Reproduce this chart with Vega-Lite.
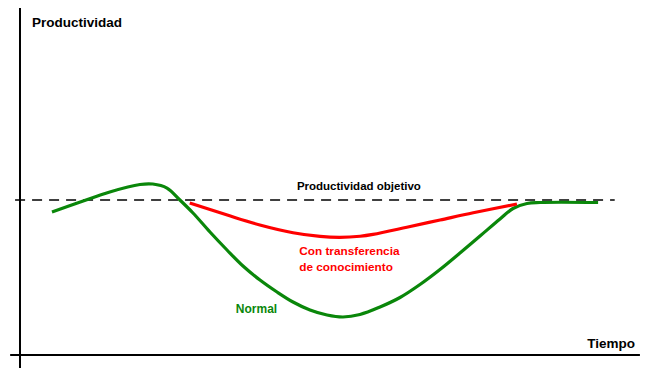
{
  "$schema": "https://vega.github.io/schema/vega-lite/v6.json",
  "width": 653,
  "height": 384,
  "padding": 0,
  "autosize": {"type": "none"},
  "background": "white",
  "config": {"view": {"stroke": null}},
  "datasets": {
    "normal": [
      {"t": 5.2, "p": 92.3}, {"t": 9.8, "p": 98.7}, {"t": 14.6, "p": 105.2}, {"t": 19.5, "p": 110.0},
      {"t": 21.6, "p": 110.3}, {"t": 23.9, "p": 107.7}, {"t": 26.0, "p": 100.0}, {"t": 28.13, "p": 91.61},
      {"t": 30.89, "p": 79.35}, {"t": 33.66, "p": 67.74}, {"t": 36.26, "p": 57.42}, {"t": 39.02, "p": 48.39},
      {"t": 41.79, "p": 40.65}, {"t": 44.39, "p": 34.19}, {"t": 47.15, "p": 29.03}, {"t": 49.92, "p": 25.81},
      {"t": 52.52, "p": 24.52}, {"t": 55.28, "p": 26.13}, {"t": 58.54, "p": 30.97}, {"t": 61.79, "p": 37.10},
      {"t": 65.04, "p": 45.48}, {"t": 68.29, "p": 55.16}, {"t": 71.54, "p": 65.81}, {"t": 74.80, "p": 76.77},
      {"t": 78.05, "p": 87.74}, {"t": 80.16, "p": 94.52}, {"t": 82.44, "p": 97.74}, {"t": 84.55, "p": 98.39},
      {"t": 94.0, "p": 98.4}
    ],
    "transfer": [
      {"t": 27.6, "p": 98.1}, {"t": 33.7, "p": 90.3}, {"t": 39.0, "p": 83.9}, {"t": 44.4, "p": 78.9},
      {"t": 48.8, "p": 76.5}, {"t": 52.0, "p": 75.9}, {"t": 55.3, "p": 76.6}, {"t": 57.4, "p": 77.8},
      {"t": 62.9, "p": 82.4}, {"t": 68.3, "p": 87.1}, {"t": 73.7, "p": 91.8}, {"t": 80.8, "p": 97.4}
    ],
    "hAxis": [{"t": -1.6, "t2": 100.8, "p": 0}],
    "vAxis": [{"t": 0, "p": -8.4, "p2": 223.9}],
    "target": [{"t": -0.8, "t2": 96.7, "p": 100}],
    "labels": [
      {"t": 1.95, "p": 211.6, "label": "Productividad", "color": "black", "size": 13.5, "align": "left"},
      {"t": 100, "p": 4.5, "label": "Tiempo", "color": "black", "size": 13.5, "align": "right"},
      {"t": 55.1, "p": 106.5, "label": "Productividad objetivo", "color": "black", "size": 11.5, "align": "center"},
      {"t": 45.4, "p": 64.5, "label": "Con transferencia", "color": "red", "size": 11.8, "align": "left"},
      {"t": 45.4, "p": 54.2, "label": "de conocimiento", "color": "red", "size": 11.8, "align": "left"},
      {"t": 35.1, "p": 27.1, "label": "Normal", "color": "green", "size": 12, "align": "left"}
    ]
  },
  "layer": [
    {
      "data": {"name": "target"},
      "mark": {"type": "rule", "color": "black", "strokeWidth": 1.3, "strokeDash": [10, 7]},
      "encoding": {
        "x": {"field": "t", "type": "quantitative", "scale": {"domain": [-3.252, 102.927], "nice": false, "zero": false}, "axis": null},
        "x2": {"field": "t2"},
        "y": {"field": "p", "type": "quantitative", "scale": {"domain": [-18.71, 229.03], "nice": false, "zero": false}, "axis": null}
      }
    },
    {
      "data": {"name": "hAxis"},
      "mark": {"type": "rule", "color": "black", "strokeWidth": 2},
      "encoding": {
        "x": {"field": "t", "type": "quantitative"},
        "x2": {"field": "t2"},
        "y": {"field": "p", "type": "quantitative"}
      }
    },
    {
      "data": {"name": "vAxis"},
      "mark": {"type": "rule", "color": "black", "strokeWidth": 2},
      "encoding": {
        "x": {"field": "t", "type": "quantitative"},
        "y": {"field": "p", "type": "quantitative"},
        "y2": {"field": "p2"}
      }
    },
    {
      "data": {"name": "normal"},
      "mark": {"type": "line", "color": "#0a870a", "strokeWidth": 3.2, "interpolate": "catmull-rom"},
      "encoding": {
        "x": {"field": "t", "type": "quantitative"},
        "y": {"field": "p", "type": "quantitative"}
      }
    },
    {
      "data": {"name": "transfer"},
      "mark": {"type": "line", "color": "#ff0000", "strokeWidth": 3.2, "interpolate": "catmull-rom"},
      "encoding": {
        "x": {"field": "t", "type": "quantitative"},
        "y": {"field": "p", "type": "quantitative"}
      }
    },
    {
      "data": {"name": "labels"},
      "transform": [{"filter": "datum.align == 'left'"}],
      "mark": {"type": "text", "font": "Liberation Sans", "fontWeight": "bold", "baseline": "alphabetic", "align": "left"},
      "encoding": {
        "x": {"field": "t", "type": "quantitative"},
        "y": {"field": "p", "type": "quantitative"},
        "text": {"field": "label"},
        "size": {"field": "size", "type": "quantitative", "scale": null},
        "color": {"field": "color", "type": "nominal", "scale": {"domain": ["black", "red", "green"], "range": ["#000000", "#ff0000", "#0a870a"]}, "legend": null}
      }
    },
    {
      "data": {"name": "labels"},
      "transform": [{"filter": "datum.align == 'right'"}],
      "mark": {"type": "text", "font": "Liberation Sans", "fontWeight": "bold", "baseline": "alphabetic", "align": "right"},
      "encoding": {
        "x": {"field": "t", "type": "quantitative"},
        "y": {"field": "p", "type": "quantitative"},
        "text": {"field": "label"},
        "size": {"field": "size", "type": "quantitative", "scale": null},
        "color": {"field": "color", "type": "nominal", "scale": {"domain": ["black", "red", "green"], "range": ["#000000", "#ff0000", "#0a870a"]}, "legend": null}
      }
    },
    {
      "data": {"name": "labels"},
      "transform": [{"filter": "datum.align == 'center'"}],
      "mark": {"type": "text", "font": "Liberation Sans", "fontWeight": "bold", "baseline": "alphabetic", "align": "center"},
      "encoding": {
        "x": {"field": "t", "type": "quantitative"},
        "y": {"field": "p", "type": "quantitative"},
        "text": {"field": "label"},
        "size": {"field": "size", "type": "quantitative", "scale": null},
        "color": {"field": "color", "type": "nominal", "scale": {"domain": ["black", "red", "green"], "range": ["#000000", "#ff0000", "#0a870a"]}, "legend": null}
      }
    }
  ]
}
